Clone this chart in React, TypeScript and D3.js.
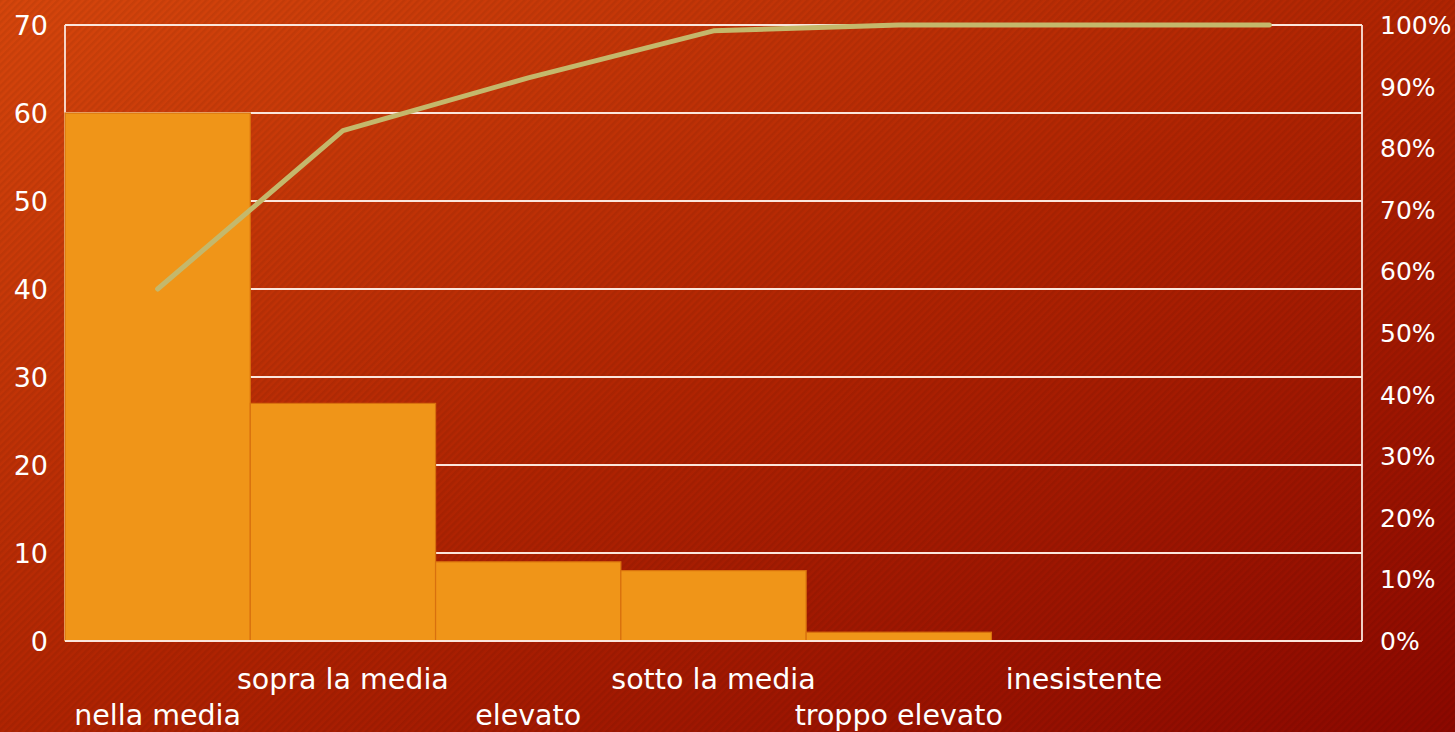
import React from "react";
import * as d3 from "d3";

const categories = ["nella media", "sopra la media", "elevato", "sotto la media", "troppo elevato", "inesistente", ""];
const counts = [60, 27, 9, 8, 1, 0, 0];
const leftTicks = [0, 10, 20, 30, 40, 50, 60, 70];
const rightTicks = [0, 10, 20, 30, 40, 50, 60, 70, 80, 90, 100];

const W = 1455;
const H = 732;
const M = { left: 65, right: 1362, top: 25, bottom: 641 };

export default function App() {
  const x = d3.scaleBand<string>().domain(categories.map((c, i) => String(i))).range([M.left, M.right]).padding(0);
  const yL = d3.scaleLinear().domain([0, 70]).range([M.bottom, M.top]);
  const yR = d3.scaleLinear().domain([0, 100]).range([M.bottom, M.top]);
  const total = d3.sum(counts);
  const cum = d3.cumsum(counts).map((v) => (v / total) * 100);
  const line = d3
    .line<number>()
    .x((_, i) => (x(String(i)) as number) + x.bandwidth() / 2)
    .y((d) => yR(d));
  const font = "'DejaVu Sans', sans-serif";
  return (
    <svg width={W} height={H} style={{ position: "fixed", left: 0, top: 0 }} fontFamily={font}>
      <defs>
        <linearGradient id="bg" x1="0" y1="0" x2="1" y2="1">
          <stop offset="0" stopColor="#d6460c" />
          <stop offset="0.5" stopColor="#b02402" />
          <stop offset="1" stopColor="#8c0800" />
        </linearGradient>
        <pattern id="stripes" width="5" height="5" patternUnits="userSpaceOnUse" patternTransform="rotate(45)">
          <rect width="2.5" height="5" fill="#000" opacity="0.06" />
        </pattern>
      </defs>
      <rect width={W} height={H} fill="url(#bg)" />
      <rect width={W} height={H} fill="url(#stripes)" />
      {leftTicks.map((t) => (
        <line key={t} x1={M.left} x2={M.right} y1={yL(t)} y2={yL(t)} stroke="#fbe6dc" strokeWidth={1.8} />
      ))}
      <line x1={M.left} x2={M.left} y1={M.top} y2={M.bottom} stroke="#fbe6dc" strokeWidth={1.8} />
      <line x1={M.right} x2={M.right} y1={M.top} y2={M.bottom} stroke="#fbe6dc" strokeWidth={1.8} />
      {counts.map((v, i) =>
        v > 0 ? (
          <rect
            key={i}
            x={x(String(i))}
            y={yL(v)}
            width={x.bandwidth()}
            height={yL(0) - yL(v)}
            fill="#f09518"
            stroke="#d8700e"
            strokeWidth={1.2}
          />
        ) : null
      )}
      <line x1={M.left} x2={M.right} y1={M.bottom} y2={M.bottom} stroke="#fbe6dc" strokeWidth={1.8} />
      <path d={line(cum) || ""} fill="none" stroke="#c4b86c" strokeWidth={5} strokeLinejoin="round" strokeLinecap="round" />
      {leftTicks.map((t) => (
        <text key={t} x={48} y={yL(t)} dy="0.36em" textAnchor="end" fill="#ffffff" fontSize={27}>
          {t}
        </text>
      ))}
      {rightTicks.map((t) => (
        <text key={t} x={1380} y={yR(t)} dy="0.36em" textAnchor="start" fill="#ffffff" fontSize={25}>
          {t + "%"}
        </text>
      ))}
      {categories.map((c, i) => (
        <text
          key={i}
          x={(x(String(i)) as number) + x.bandwidth() / 2}
          y={i % 2 === 0 ? 715 : 679}
          dy="0.36em"
          textAnchor="middle"
          fill="#ffffff"
          fontSize={28.5}
        >
          {c}
        </text>
      ))}
    </svg>
  );
}
